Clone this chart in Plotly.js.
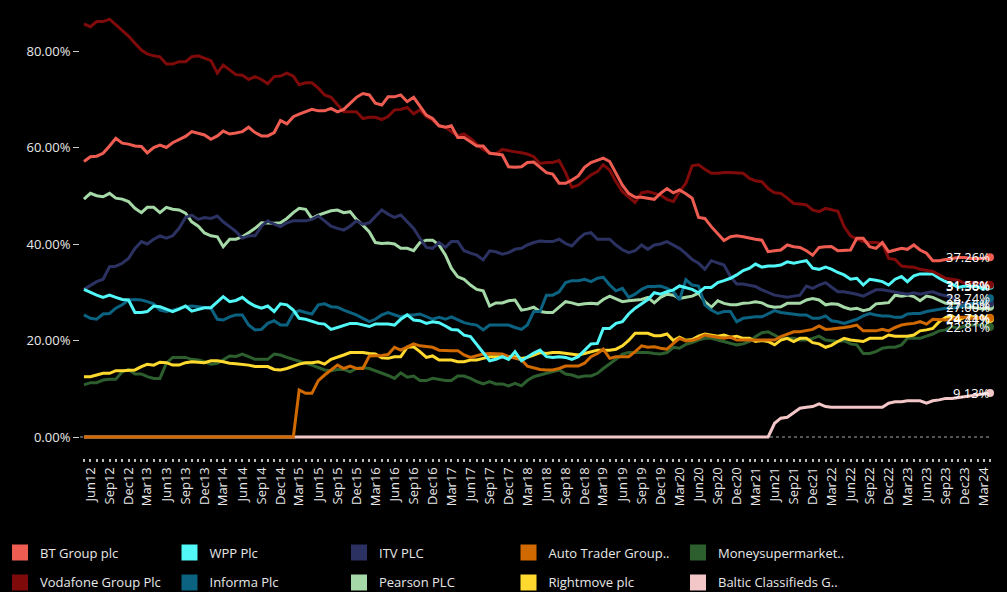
<!DOCTYPE html>
<html><head><meta charset="utf-8">
<script src="https://cdn.plot.ly/plotly-3.0.1.min.js"></script>
<style>html,body{margin:0;padding:0;background:#000;}#chart{width:1007px;height:592px;}</style>
</head><body><div id="chart"></div><script>
// Monthly observations, May 2012 .. Apr 2024 (144 months)
const monthCount = 144;
const months = [];
for (let k = 0; k < monthCount; k++) {
  const y = 2012 + Math.floor((4 + k) / 12), m = (4 + k) % 12 + 1;
  months.push(y + '-' + String(m).padStart(2, '0') + '-01');
}

const seriesNames = ['BT Group plc','Vodafone Group Plc','WPP Plc','Informa Plc','ITV PLC','Pearson PLC','Auto Trader Group..','Rightmove plc','Moneysupermarket..','Baltic Classifieds G..'];
const seriesColors = ['#EF5D52','#7F0A0A','#52F7F7','#0B6381','#2B3161','#A6D9A8','#D06A00','#FFD92E','#2C5E2E','#F3C6C8'];
// legend order (row-major, 5 columns)
const legendOrder = ['BT Group plc','WPP Plc','ITV PLC','Auto Trader Group..','Moneysupermarket..','Vodafone Group Plc','Informa Plc','Pearson PLC','Rightmove plc','Baltic Classifieds G..'];
const yTickValues = [0, 20, 40, 60, 80];
const yTickLabels = ['0.00%', '20.00%', '40.00%', '60.00%', '80.00%'];

const btGroup = [57.1,58.1,58.2,58.8,60.3,61.9,60.9,60.7,60.3,60.2,58.9,60.0,60.5,60.0,61.0,61.7,62.3,63.3,62.9,62.6,61.7,62.4,63.4,62.8,63.0,
 63.3,64.2,63.1,62.4,62.4,63.1,65.6,64.9,66.4,66.9,67.4,67.9,67.6,67.6,68.1,67.4,67.9,69.2,70.4,71.2,70.9,69.2,68.8,70.5,
 70.5,70.9,69.5,70.4,68.5,66.7,66.0,64.5,64.2,64.5,62.1,62.1,61.2,60.3,60.3,58.8,58.65,58.45,56.0,55.9,56.0,56.9,57.0,56.0,
 54.8,54.5,52.6,52.6,53.25,54.1,55.9,56.9,57.4,57.8,57.1,54.65,52.2,50.5,49.7,49.7,49.5,49.26,50.5,51.5,50.6,51.2,50.4,
 49.5,45.5,45.3,43.6,42.1,40.7,41.5,41.7,41.5,41.2,41.0,40.8,38.4,38.6,38.75,39.8,39.45,39.3,38.6,37.7,39.3,39.45,39.5,38.6,
 38.75,38.75,41.2,41.2,39.45,39.1,40.3,38.4,38.75,39.1,38.9,39.8,38.75,38.1,36.55,36.55,36.8,37.0,37.2,37.2,37.0,37.0,37.0,37.26];
const vodafone = [85.6,85.05,86.1,86.1,86.6,85.4,84.2,83.1,81.6,80.2,79.4,79.0,78.8,77.3,77.3,77.8,77.8,78.8,79.0,78.5,78.0,75.4,77.1,76.1,75.1,
 75.0,74.1,74.7,74.1,73.2,74.7,74.8,75.4,74.8,73.0,73.4,73.4,72.3,70.9,70.4,68.8,67.4,67.4,67.4,66.0,66.25,66.25,65.8,66.4,
 67.8,67.9,68.3,67.0,67.8,66.4,65.7,64.5,64.2,63.3,62.4,62.8,61.9,60.7,59.6,58.9,58.65,59.6,59.3,59.1,58.9,58.65,58.1,56.7,
 56.9,56.9,57.3,54.8,51.75,52.2,53.25,54.3,55.0,56.4,55.3,52.9,50.85,49.7,48.6,50.6,50.85,50.5,50.15,49.26,48.8,50.85,52.6,
 56.2,56.4,55.5,54.65,54.65,54.8,54.8,54.8,54.65,53.6,53.1,52.9,51.5,50.6,50.5,49.5,48.4,48.3,48.1,47.05,46.7,47.4,47.1,46.8,
 43.6,41.7,41.0,40.5,40.3,40.3,40.1,37.0,36.8,35.45,35.3,35.2,34.75,34.5,34.3,33.6,32.9,32.7,32.5,31.85,32.0,31.85,31.85,31.58];
const wpp = [30.6,29.9,29.4,28.95,29.4,28.95,28.5,28.4,25.8,25.8,26.0,27.15,27.0,26.5,26.0,26.5,27.15,26.1,26.5,26.8,26.8,28.05,29.1,28.05,28.3,
 28.95,27.9,27.15,26.7,27.15,26.0,27.6,27.4,26.3,24.6,24.4,23.9,23.55,23.4,22.3,22.7,23.2,23.55,23.55,23.2,22.9,23.4,23.4,23.4,
 23.2,24.4,25.3,24.25,24.1,23.55,23.9,23.7,23.0,22.3,22.2,21.1,20.8,19.1,17.3,15.8,16.1,16.65,16.1,17.7,15.8,16.65,17.4,18.0,
 16.65,16.5,16.65,16.5,16.1,16.65,17.9,19.3,19.4,22.5,22.5,23.55,23.9,25.5,26.7,27.7,28.5,29.9,29.6,30.1,30.5,31.3,30.9,
 30.6,29.9,31.0,31.0,32.0,32.4,32.9,33.6,34.5,35.0,35.85,35.2,35.45,35.45,35.65,36.3,36.0,36.3,36.55,35.0,34.75,35.2,34.8,34.1,
 33.6,32.7,32.9,31.5,32.7,32.5,32.2,31.5,32.7,33.25,32.2,33.4,33.8,33.8,33.8,32.9,32.2,31.7,31.0,31.3,31.2,31.2,30.6,31.36];
const informa = [25.3,24.6,24.4,25.5,25.6,26.7,27.4,28.4,28.5,28.4,28.05,27.6,26.3,26.0,26.3,26.7,27.0,27.15,27.0,27.0,26.7,24.4,24.25,24.9,25.3,
 25.3,23.2,22.2,22.3,23.55,24.1,23.2,23.2,25.6,26.2,25.8,25.5,27.4,27.6,27.0,26.9,26.3,25.8,25.3,24.6,23.9,24.4,25.3,25.8,
 25.3,24.9,25.3,25.3,25.5,24.9,24.4,24.8,24.4,24.9,24.25,23.7,23.4,23.2,22.2,23.2,23.2,23.2,23.2,22.7,22.3,23.2,26.0,26.0,
 29.4,29.4,30.1,32.0,32.4,32.4,32.7,32.2,32.9,33.1,31.5,30.3,30.8,28.95,29.6,30.6,31.2,31.2,31.3,30.8,30.1,28.4,32.6,
 31.5,31.3,27.4,26.3,25.6,26.0,26.0,23.9,24.6,24.8,24.9,24.9,25.6,26.2,25.8,25.6,25.5,25.3,25.3,24.6,24.6,25.1,24.1,23.9,
 23.55,23.9,24.4,25.1,25.6,25.3,25.1,25.1,24.8,24.8,25.5,25.6,25.6,26.0,26.2,26.5,26.7,26.7,26.9,27.15,27.6,27.7,27.85,28.74];
const itv = [30.6,31.5,32.2,32.7,35.3,35.4,36.0,37.0,39.1,40.5,40.0,41.0,41.7,41.2,41.7,43.25,45.5,46.0,45.1,45.5,45.3,45.8,44.6,43.6,42.6,
 41.2,41.7,41.7,43.7,44.8,44.1,43.6,44.4,44.8,44.8,44.8,45.1,45.8,44.8,43.7,43.25,42.9,43.7,44.8,44.1,44.4,45.7,47.05,46.2,
 45.5,46.0,44.6,43.25,41.2,39.3,39.1,40.3,39.3,40.5,40.5,38.6,38.1,37.7,36.7,38.6,38.4,37.9,38.2,38.9,39.1,39.8,40.3,40.6,
 40.5,40.5,41.0,40.1,39.6,41.0,42.1,42.35,41.0,41.0,41.0,39.8,38.8,38.2,38.6,39.8,38.9,39.8,40.0,40.5,39.8,39.1,38.0,
 36.8,36.0,34.75,36.55,36.1,35.65,33.25,31.7,31.7,31.5,31.2,30.5,29.9,29.4,29.2,28.95,29.2,29.4,31.3,30.8,31.5,32.0,31.1,30.1,
 30.1,29.9,29.6,29.2,29.8,30.5,30.5,30.3,30.1,29.8,29.6,29.9,29.6,29.9,30.1,29.6,29.2,28.95,27.7,27.7,27.6,27.7,27.7,27.66];
const pearson = [49.3,50.5,50.0,49.8,50.5,49.5,49.3,48.8,47.4,46.5,47.6,47.6,46.5,47.6,47.2,47.05,46.4,44.6,43.7,42.3,41.7,41.5,39.45,41.0,41.0,
 41.5,42.35,43.25,44.4,44.3,44.3,44.4,45.3,46.5,47.4,47.2,45.3,46.0,46.5,46.9,47.05,46.5,46.7,45.1,43.9,42.5,40.3,40.1,40.2,
 40.0,39.1,39.1,38.6,40.3,40.8,40.8,39.8,37.7,35.0,33.2,32.7,31.5,30.6,30.3,27.15,27.8,27.8,28.25,28.4,26.3,26.5,26.9,26.0,
 25.8,25.8,26.9,28.05,27.8,27.4,27.6,27.7,27.6,28.5,29.2,28.7,28.05,28.25,28.4,28.5,28.95,27.8,28.95,29.6,29.4,28.7,28.95,
 29.2,29.8,28.05,26.9,28.25,27.7,27.4,27.4,27.7,27.8,28.05,27.8,27.15,26.9,27.0,27.7,27.7,27.7,28.4,28.7,28.4,27.4,27.6,27.5,
 26.9,26.5,26.7,26.2,26.5,27.6,27.7,27.85,29.4,29.2,29.4,29.1,28.25,29.2,28.95,28.25,27.7,27.7,27.7,27.15,26.9,26.7,26.5,27.00];
const autoTrader = [0,0,0,0,0,0,0,0,0,0, 0,0,0,0,0,0,0,0,0,0, 0,0,0,0,0,0,0,0,0,0, 0,0,0,0,
 9.75,9.05,9.05,11.7,12.85,13.9,14.9,14.2,14.7,14.2,14.2,16.8,16.8,16.9,17.1,
 18.6,18.0,18.6,19.3,18.9,18.7,18.6,18.0,17.9,17.9,17.9,17.0,16.5,16.8,17.2,17.3,17.2,17.2,16.65,16.3,16.0,14.7,14.4,14.0,
 13.9,13.9,14.2,14.7,14.7,14.7,15.3,16.65,17.3,18.2,16.3,16.65,16.65,16.65,17.7,18.9,18.6,18.7,18.4,18.2,19.4,20.45,19.9,
 20.0,20.45,21.15,20.9,20.7,20.45,20.7,20.1,20.1,20.1,20.1,20.1,20.1,20.1,20.8,21.35,21.8,21.8,22.0,22.3,23.0,22.3,22.4,22.5,
 22.7,22.9,23.2,22.0,22.0,22.0,22.3,22.0,22.7,23.2,23.4,23.55,23.9,23.4,24.4,24.25,24.25,24.4,24.8,24.8,24.6,24.6,24.6,24.71];
const rightmove = [12.5,12.5,12.85,13.2,13.2,13.75,13.75,13.9,13.9,14.6,15.06,14.9,15.5,15.4,14.9,14.9,15.4,15.6,15.5,15.4,15.8,15.8,15.6,15.3,15.2,
 15.1,14.9,14.6,14.6,14.6,14.0,13.9,14.2,14.7,15.1,15.4,15.4,15.6,15.1,16.1,16.5,17.0,17.5,17.5,17.5,17.3,17.2,16.4,16.3,
 16.65,16.65,18.6,18.7,17.7,16.5,16.8,15.95,15.95,15.95,15.6,15.6,15.95,15.95,16.3,16.65,16.65,16.65,16.65,16.65,16.3,16.5,17.0,17.5,
 17.3,17.5,17.5,17.3,17.2,17.0,17.3,17.7,18.0,18.0,18.0,18.2,18.9,20.0,21.5,21.5,21.5,21.0,21.0,21.35,20.0,20.7,20.05,
 20.2,20.9,21.35,21.15,20.9,21.15,20.7,20.9,20.45,20.45,19.8,20.0,19.8,19.1,20.1,20.45,19.8,20.45,20.45,19.55,19.3,18.6,19.0,19.8,
 20.45,20.1,20.0,19.8,20.45,20.45,20.45,21.15,20.9,20.9,20.9,21.15,22.0,22.2,22.5,23.9,24.8,25.1,24.25,24.8,25.0,24.6,24.9,24.44];
const moneysupermarket = [10.8,11.26,11.26,11.8,11.95,11.95,13.5,14.0,13.06,13.06,12.5,12.15,12.15,15.3,16.5,16.5,16.5,16.1,15.95,15.6,15.1,15.3,15.95,16.8,16.7,
 17.2,16.65,16.1,16.1,16.1,17.2,17.0,16.5,16.1,15.8,15.4,14.9,14.4,13.9,13.75,14.0,14.0,13.5,14.2,14.4,14.2,13.75,13.3,12.75,
 12.15,13.3,12.4,12.65,11.7,11.7,12.15,11.95,11.7,11.7,12.65,12.65,12.15,11.5,11.0,11.5,11.0,11.0,10.6,11.1,10.6,11.7,12.5,12.85,
 13.2,13.5,13.9,13.06,12.85,12.4,12.65,12.65,13.2,14.2,15.1,16.1,17.2,17.5,17.5,17.5,17.5,17.3,17.2,17.5,18.6,18.4,19.2,
 19.55,20.1,20.45,20.45,20.1,19.8,19.55,19.1,19.3,19.8,20.8,21.6,21.8,21.15,20.45,20.45,20.45,20.1,20.1,20.45,20.9,20.1,19.95,19.8,
 19.95,19.3,19.1,17.3,17.3,17.7,18.4,18.6,18.6,19.1,20.45,20.45,20.45,20.9,21.35,22.0,22.2,22.9,22.5,23.0,23.2,23.2,23.2,22.81];
const balticClassifieds = [0,0,0,0,0,0,0,0,0,0, 0,0,0,0,0,0,0,0,0,0, 0,0,0,0,0,0,0,0,0,0, 0,0,0,0,0,0,0,0,0,0,
 0,0,0,0,0,0,0,0,0,0, 0,0,0,0,0,0,0,0,0,0, 0,0,0,0,0,0,0,0,0,0, 0,0,0,0,0,0,0,0,0,0,
 0,0,0,0,0,0,0,0,0,0, 0,0,0,0,0,0,0,0,0,0, 0,0,0,0,0,0,0,0,0,
 2.85,3.9,4.1,5.05,5.95,6.15,6.3,6.85,6.3,6.15,6.15,
 6.15,6.15,6.15,6.15,6.15,6.15,6.15,7.0,7.3,7.3,7.5,7.5,7.5,7.0,7.5,7.7,8.0,8.0,8.2,8.4,8.7,8.9,9.05,9.13];

const seriesValues = [btGroup, vodafone, wpp, informa, itv, pearson, autoTrader, rightmove, moneysupermarket, balticClassifieds];

const traces = [];
const annotations = [];
// draw in reverse so the first series sits on top
for (let s = seriesNames.length - 1; s >= 0; s--) {
  const vals = seriesValues[s];
  const n = vals.length;
  traces.push({
    type: 'scatter', mode: 'lines+markers',
    x: months.slice(0, n), y: vals,
    name: seriesNames[s], legendgroup: seriesNames[s], showlegend: false,
    line: {color: seriesColors[s], width: 3},
    marker: {color: seriesColors[s], opacity: 1, line: {width: 0}, size: vals.map((v, i) => i === n - 1 ? 8 : 0)},
    cliponaxis: false, hoverinfo: 'x+y+name'
  });
}
// end-of-line value labels, taken from the last value of each series
for (let s = 0; s < seriesNames.length; s++) {
  const vals = seriesValues[s];
  const n = vals.length;
  annotations.push({
    x: months[n - 1], y: vals[n - 1], xref: 'x', yref: 'y',
    text: vals[n - 1].toFixed(2) + '%', showarrow: false,
    xanchor: 'right', yanchor: 'middle', xshift: 2,
    font: {color: '#ffffff', size: 13}
  });
}
legendOrder.forEach(name => {
  const s = seriesNames.indexOf(name);
  traces.push({
    type: 'scatter', mode: 'markers', x: [null], y: [null],
    name: name, legendgroup: name, showlegend: true,
    marker: {color: seriesColors[s], symbol: 'square', size: 16}
  });
});

const layout = {
  width: 1007, height: 592,
  paper_bgcolor: '#000000', plot_bgcolor: '#000000',
  margin: {l: 80, r: 17, t: 10, b: 134},
  font: {family: '"Open Sans", "Noto Sans", sans-serif', color: '#e8e8e8', size: 13},
  showlegend: true,
  xaxis: {
    type: 'date', range: ['2012-04-12', '2024-04-01'],
    tick0: '2012-06-01', dtick: 'M3', tickformat: '%b%y', tickangle: -90,
    ticks: 'outside', ticklen: 3, tickwidth: 2, tickcolor: '#bbbbbb',
    minor: {tick0: '2012-05-01', dtick: 'M1', ticks: 'outside', ticklen: 3, tickwidth: 2, tickcolor: '#bbbbbb', showgrid: false},
    showgrid: false, zeroline: false, showline: false,
    tickfont: {size: 13, color: '#e8e8e8'}
  },
  yaxis: {
    range: [-4.35, 88.5], tickmode: 'array', tickvals: yTickValues, ticktext: yTickLabels,
    ticks: 'outside', ticklen: 6, tickwidth: 1, tickcolor: '#cccccc',
    showgrid: false, zeroline: false, showline: false,
    tickfont: {size: 13, color: '#e8e8e8'}
  },
  legend: {
    orientation: 'h', xref: 'container', yref: 'container', x: 0, y: 0.092, yanchor: 'top', xanchor: 'left',
    entrywidth: 124.5, entrywidthmode: 'pixels', itemsizing: 'trace',
    font: {size: 13, color: '#e8e8e8'}, bgcolor: 'rgba(0,0,0,0)'
  },
  annotations: annotations,
  shapes: [{type: 'line', xref: 'paper', x0: 0, x1: 1, yref: 'y', y0: 0, y1: 0,
            line: {color: '#aaaaaa', width: 1, dash: 'dot'}, layer: 'below'}]
};

Plotly.newPlot('chart', traces, layout, {displayModeBar: false, staticPlot: true});
</script></body></html>
